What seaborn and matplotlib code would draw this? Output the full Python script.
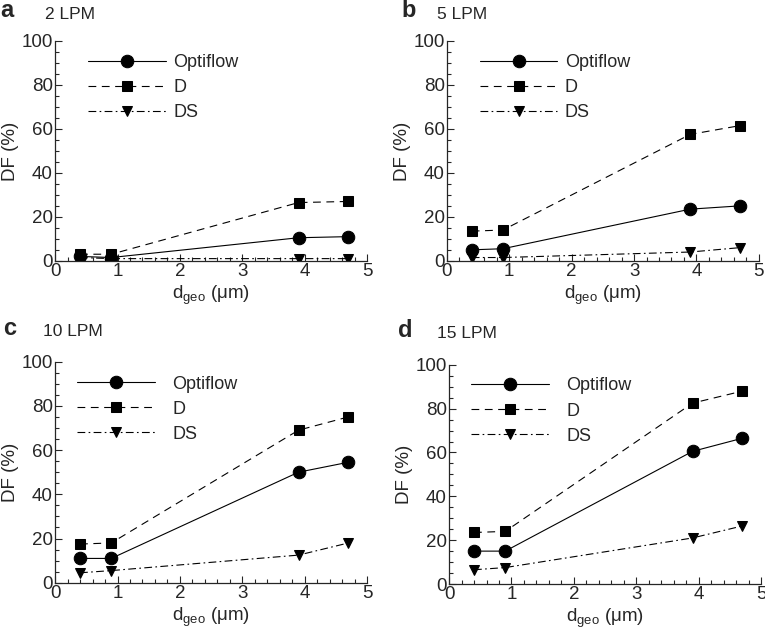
import numpy as np
import pandas as pd
import matplotlib
matplotlib.use("Agg")
import matplotlib.pyplot as plt
import seaborn as sns
from matplotlib.ticker import MultipleLocator

sns.set_style("ticks")
plt.rcParams['font.family'] = ['Liberation Sans', 'DejaVu Sans']
plt.rcParams['mathtext.fontset'] = 'custom'
plt.rcParams['mathtext.rm'] = 'Liberation Sans'
plt.rcParams['mathtext.it'] = 'Liberation Sans'

d_geo = [0.4, 0.9, 3.9, 4.7]
panels = ['a', 'b', 'c', 'd']
flows = ['2 LPM', '5 LPM', '10 LPM', '15 LPM']
series = ['Optiflow', 'D', 'DS']

optiflow = [[2.0, 1.5, 10.5, 11.0],
            [5.0, 5.5, 23.5, 25.0],
            [11.0, 11.0, 50.0, 54.5],
            [15.0, 15.0, 60.5, 66.5]]
d_vals = [[3.0, 3.0, 26.5, 27.0],
          [13.5, 14.0, 57.5, 61.5],
          [17.5, 18.0, 69.0, 75.0],
          [23.5, 24.0, 82.5, 88.0]]
ds_vals = [[1.5, 1.0, 1.0, 1.0],
           [1.5, 1.5, 4.0, 6.0],
           [4.5, 5.5, 12.5, 18.0],
           [6.5, 7.5, 21.0, 26.5]]

styles = {'Optiflow': dict(marker='o', ms=9, ls='-'),
          'D': dict(marker='s', ms=6.5, ls=(0, (7, 5))),
          'DS': dict(marker='v', ms=7, ls=(0, (7, 3, 1.5, 3)))}

# axes boxes in figure fractions [left, bottom, width, height]
boxes = [[0.072, 0.586, 0.408, 0.349],
         [0.584, 0.586, 0.408, 0.349],
         [0.072, 0.075, 0.408, 0.351],
         [0.587, 0.073, 0.408, 0.348]]
# legend placement per panel (axes fraction of handle start, text pad)
leg_x = [0.106, 0.106, 0.07, 0.07]
leg_y = [0.94, 0.94, 0.937, 0.942]
leg_pad = [0.4, 0.4, 1.0, 1.0]
# panel letter / flow text positions (figure fraction)
letter_xy = [(0.0, 0.973), (0.525, 0.973), (0.004, 0.468), (0.52, 0.465)]
flow_xy = [(0.059, 0.970), (0.571, 0.970), (0.056, 0.467), (0.571, 0.4635)]

fig = plt.figure(figsize=(7.65, 6.3), dpi=100)

for i in range(4):
    ax = fig.add_axes(boxes[i])
    vals = {'Optiflow': optiflow[i], 'D': d_vals[i], 'DS': ds_vals[i]}
    for name in series:
        st = styles[name]
        sns.lineplot(x=d_geo, y=vals[name], ax=ax, color='black', lw=0.8,
                     marker=st['marker'], markersize=st['ms'], linestyle=st['ls'],
                     markeredgecolor='black', label=name)
    ax.set_xlim(0, 5)
    ax.set_ylim(0, 100)
    ax.xaxis.set_major_locator(MultipleLocator(1))
    ax.xaxis.set_minor_locator(MultipleLocator(0.2))
    ax.yaxis.set_major_locator(MultipleLocator(20))
    ax.yaxis.set_minor_locator(MultipleLocator(5))
    ax.tick_params(which='both', direction='in', width=0.8, labelsize=13.5, pad=1.5)
    ax.tick_params(which='major', length=5)
    ax.tick_params(which='minor', length=3)
    sns.despine(ax=ax)
    for sp in ['left', 'bottom']:
        ax.spines[sp].set_linewidth(0.9)
    ax.set_xlabel(r'd$_{\mathrm{geo}}$ ($\mathrm{\mu}$m)', fontsize=13.5, labelpad=3)
    ax.set_ylabel('DF (%)', fontsize=13.5, labelpad=2)
    ax.legend(loc='upper left', bbox_to_anchor=(leg_x[i], leg_y[i]), frameon=False,
              fontsize=13, handlelength=4.3, handletextpad=leg_pad[i],
              labelspacing=0.45, borderaxespad=0, borderpad=0)
    fig.text(letter_xy[i][0], letter_xy[i][1], panels[i], fontsize=17,
             fontweight='bold', va='baseline', ha='left')
    fig.text(flow_xy[i][0], flow_xy[i][1], flows[i], fontsize=12.5,
             va='baseline', ha='left')

fig.savefig('out.png', dpi=100)
